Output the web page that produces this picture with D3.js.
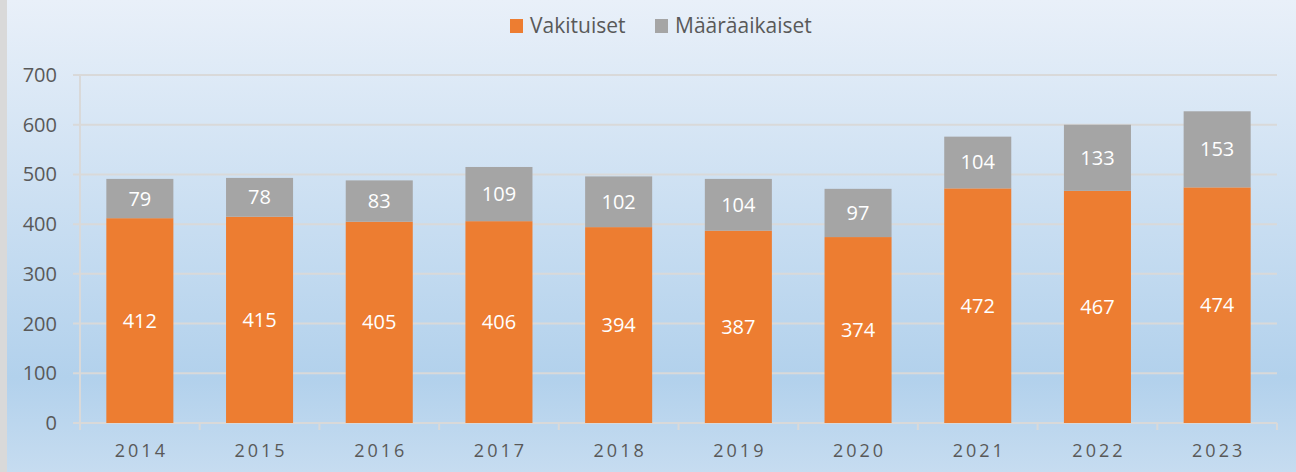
<!DOCTYPE html>
<html>
<head>
<meta charset="utf-8">
<script src="https://d3js.org/d3.v7.min.js"></script>
<style>
  body { margin: 0; padding: 0; overflow: hidden; }
  svg { display: block; font-family: "Open Sans", "Noto Sans", sans-serif; }
</style>
</head>
<body>
<script>
// data
var years = ["2014", "2015", "2016", "2017", "2018", "2019", "2020", "2021", "2022", "2023"];
var vakituiset = [412, 415, 405, 406, 394, 387, 374, 472, 467, 474];
var maaraaikaiset = [79, 78, 83, 109, 102, 104, 97, 104, 133, 153];
var seriesNames = ["Vakituiset", "Määräaikaiset"];
var seriesColors = ["#ed7d31", "#a5a5a5"];
var yTicks = [0, 100, 200, 300, 400, 500, 600, 700];

var W = 1296, H = 472;
var margin = {top: 75, right: 19, bottom: 49, left: 80};
var width = W - margin.left - margin.right,
    height = H - margin.top - margin.bottom;

var svg = d3.select("body").append("svg")
    .attr("width", W)
    .attr("height", H);

var defs = svg.append("defs");
var grad = defs.append("linearGradient")
    .attr("id", "bg").attr("x1", 0).attr("y1", 0).attr("x2", 0).attr("y2", 1);
grad.append("stop").attr("offset", "0%").attr("stop-color", "#e9f0f9");
grad.append("stop").attr("offset", "80%").attr("stop-color", "#b2d1ec");
grad.append("stop").attr("offset", "100%").attr("stop-color", "#c6dcf0");

svg.append("rect").attr("width", W).attr("height", H).attr("fill", "url(#bg)");
// left border of the chart frame
svg.append("rect").attr("x", 0).attr("y", 0).attr("width", 7).attr("height", H).attr("fill", "#d9d9d9");

var g = svg.append("g").attr("transform", "translate(" + margin.left + "," + margin.top + ")");

var x = d3.scaleBand().domain(years).range([0, width]).paddingInner(0.44).paddingOuter(0.22);
var y = d3.scaleLinear().domain([0, 700]).range([height, 0]);

// gridlines
g.append("g")
    .selectAll("line")
    .data(yTicks)
    .enter().append("line")
    .attr("x1", -7).attr("x2", width)
    .attr("y1", function(d){ return y(d); })
    .attr("y2", function(d){ return y(d); })
    .attr("stroke", "#d9d9d9")
    .attr("stroke-width", 2);

// y labels
g.append("g")
    .selectAll("text")
    .data(yTicks)
    .enter().append("text")
    .attr("x", -23)
    .attr("y", function(d){ return y(d); })
    .attr("dy", "0.35em")
    .attr("text-anchor", "end")
    .attr("font-size", 20)
    .attr("fill", "#595959")
    .text(function(d){ return d; });

// vertical axis line
g.append("line")
    .attr("x1", 0).attr("x2", 0).attr("y1", 0).attr("y2", height + 7)
    .attr("stroke", "#d9d9d9").attr("stroke-width", 2);

// x ticks between categories
var step = width / years.length;
g.append("g")
    .selectAll("line")
    .data(d3.range(years.length + 1))
    .enter().append("line")
    .attr("x1", function(i){ return i * step; })
    .attr("x2", function(i){ return i * step; })
    .attr("y1", height).attr("y2", height + 7)
    .attr("stroke", "#d9d9d9").attr("stroke-width", 2);

var stackData = years.map(function(yr, i){
    return {year: yr, v: vakituiset[i], m: maaraaikaiset[i]};
});

var bars = g.append("g").selectAll("g")
    .data(stackData)
    .enter().append("g");

bars.append("rect")
    .attr("x", function(d){ return x(d.year); })
    .attr("width", x.bandwidth())
    .attr("y", function(d){ return y(d.v); })
    .attr("height", function(d){ return y(0) - y(d.v); })
    .attr("fill", seriesColors[0]);

bars.append("rect")
    .attr("x", function(d){ return x(d.year); })
    .attr("width", x.bandwidth())
    .attr("y", function(d){ return y(d.v + d.m); })
    .attr("height", function(d){ return y(d.v) - y(d.v + d.m); })
    .attr("fill", seriesColors[1]);

bars.append("text")
    .attr("x", function(d){ return x(d.year) + x.bandwidth() / 2; })
    .attr("y", function(d){ return y(d.v / 2); })
    .attr("dy", "0.35em")
    .attr("text-anchor", "middle")
    .attr("font-size", 20)
    .attr("fill", "#ffffff")
    .text(function(d){ return d.v; });

bars.append("text")
    .attr("x", function(d){ return x(d.year) + x.bandwidth() / 2; })
    .attr("y", function(d){ return y(d.v + d.m / 2); })
    .attr("dy", "0.35em")
    .attr("text-anchor", "middle")
    .attr("font-size", 20)
    .attr("fill", "#ffffff")
    .text(function(d){ return d.m; });

// x labels
g.append("g")
    .selectAll("text")
    .data(years)
    .enter().append("text")
    .attr("x", function(d){ return x(d) + x.bandwidth() / 2 + 1.5; })
    .attr("y", height + 28)
    .attr("dy", "0.35em")
    .attr("text-anchor", "middle")
    .attr("font-size", 18)
    .attr("letter-spacing", "3px")
    .attr("fill", "#595959")
    .text(function(d){ return d; });

// legend
var legendX = [510, 655];
var legend = svg.append("g").selectAll("g")
    .data(seriesNames)
    .enter().append("g")
    .attr("transform", function(d, i){ return "translate(" + legendX[i] + ",19)"; });
legend.append("rect")
    .attr("width", 13).attr("height", 14)
    .attr("fill", function(d, i){ return seriesColors[i]; });
legend.append("text")
    .attr("x", 20).attr("y", 7)
    .attr("dy", "0.35em")
    .attr("font-size", 21)
    .attr("fill", "#595959")
    .text(function(d){ return d; });
</script>
</body>
</html>
